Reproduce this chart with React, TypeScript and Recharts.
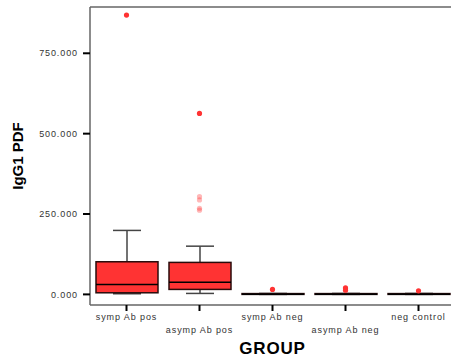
import React from 'react';
import { ComposedChart, Bar, Scatter, XAxis, YAxis } from 'recharts';

// groups and box statistics
const groups = ['symp Ab pos', 'asymp Ab pos', 'symp Ab neg', 'asymp Ab neg', 'neg  control'];
const whiskerLow = [2000, 3000, 0, 0, 0];
const q1 = [5000, 15500, 0, 0, 0];
const median = [31000, 38000, 800, 800, 800];
const q3 = [101500, 99500, 2500, 2500, 2500];
const whiskerHigh = [199000, 150000, 3000, 3000, 3000];

// outliers
const outlierGroups = ['symp Ab pos', 'asymp Ab pos', 'symp Ab neg', 'asymp Ab neg', 'asymp Ab neg', 'neg  control'];
const outlierValues = [869000, 563000, 15500, 20000, 13000, 11000];
const faintGroups = ['asymp Ab pos', 'asymp Ab pos', 'asymp Ab pos', 'asymp Ab pos'];
const faintValues = [304000, 294000, 268000, 262000];

const yTicks = [0, 250000, 500000, 750000];
const yTickLabels = ['0.000', '250.000', '500.000', '750.000'];

const rows = groups.map((g, i) => ({
  group: g,
  range: [whiskerLow[i], whiskerHigh[i]],
  low: whiskerLow[i],
  q1: q1[i],
  median: median[i],
  q3: q3[i],
  high: whiskerHigh[i],
}));

const outliers = outlierGroups.map((g, i) => ({ group: g, value: outlierValues[i] }));
const faint = faintGroups.map((g, i) => ({ group: g, value: faintValues[i] }));

const FONT = '"Liberation Sans", Arial, Helvetica, sans-serif';

const BoxShape = (props: any) => {
  const { x, y, width, height, payload } = props;
  if (x == null || y == null) return null;
  const top = Math.min(y, y + height);
  const bottom = Math.max(y, y + height);
  const { low, high } = payload;
  const toY = (v: number) => bottom - ((bottom - top) * (v - low)) / (high - low);
  const cx = x + width / 2;
  const cap = 28;
  const yq1 = toY(payload.q1);
  const yq3 = toY(payload.q3);
  const ymed = toY(payload.median);
  return (
    <g>
      <line x1={cx} x2={cx} y1={toY(high)} y2={yq3} stroke="#444" strokeWidth={1.5} />
      <line x1={cx} x2={cx} y1={yq1} y2={toY(low)} stroke="#444" strokeWidth={1.5} />
      <line x1={cx - cap / 2} x2={cx + cap / 2} y1={toY(high)} y2={toY(high)} stroke="#444" strokeWidth={1.5} />
      <line x1={cx - cap / 2} x2={cx + cap / 2} y1={toY(low)} y2={toY(low)} stroke="#444" strokeWidth={1.5} />
      <rect x={x} y={yq3} width={width} height={Math.max(yq1 - yq3, 0.5)} fill="#ff3333" stroke="#2a0c0c" strokeWidth={1.5} />
      <line x1={x} x2={x + width} y1={ymed} y2={ymed} stroke="#000" strokeWidth={1.5} />
    </g>
  );
};

const Dot = (props: any) => <circle cx={props.cx} cy={props.cy} r={2.6} fill="#ff3333" />;
const FaintDot = (props: any) => <circle cx={props.cx} cy={props.cy} r={2.6} fill="#ff3333" fillOpacity={0.35} />;

const XTick = (props: any) => {
  const { x, y, payload, index } = props;
  return (
    <text
      x={x}
      y={y + (index % 2 ? 19.5 : 7)}
      textAnchor="middle"
      fontSize={9}
      letterSpacing={0.9}
      fill="#333"
      fontFamily={FONT}
    >
      {payload.value}
    </text>
  );
};

const YLabel = (props: any) => {
  const { viewBox } = props;
  const cx = 23;
  const cy = viewBox.y + viewBox.height / 2;
  return (
    <text
      x={cx}
      y={cy}
      transform={`rotate(-90 ${cx} ${cy})`}
      textAnchor="middle"
      fontSize={15}
      fontWeight="bold"
      fill="#000"
      fontFamily={FONT}
    >
      IgG1 PDF
    </text>
  );
};

const XLabel = (props: any) => {
  const { viewBox } = props;
  return (
    <text
      x={viewBox.x + viewBox.width / 2}
      y={354}
      textAnchor="middle"
      fontSize={17}
      fontWeight="bold"
      letterSpacing={0.8}
      fill="#000"
      fontFamily={FONT}
    >
      GROUP
    </text>
  );
};

export default function App() {
  return (
    <div style={{ position: 'absolute', left: 0, top: 0, width: 451, height: 363, overflow: 'hidden', background: '#fff' }}>
      <ComposedChart width={460} height={363} data={rows} margin={{ top: 6, right: 5, bottom: 0, left: 0 }}>
        <XAxis
          dataKey="group"
          type="category"
          allowDuplicatedCategory={false}
          height={58}
          axisLine={{ stroke: '#666', strokeWidth: 1.5 }}
          tickLine={{ stroke: '#000', strokeWidth: 2 }}
          tickSize={6}
          tickMargin={2}
          tick={<XTick />}
          interval={0}
          label={<XLabel />}
        />
        <XAxis
          xAxisId="top"
          orientation="top"
          dataKey="group"
          height={1}
          tick={false}
          tickLine={false}
          axisLine={{ stroke: '#666', strokeWidth: 1.5 }}
        />
        <YAxis
          type="number"
          width={90}
          domain={[-33000, 894000]}
          ticks={yTicks}
          tickFormatter={(v: number) => yTickLabels[yTicks.indexOf(v)]}
          axisLine={{ stroke: '#666', strokeWidth: 1.5 }}
          tickLine={{ stroke: '#000', strokeWidth: 2 }}
          tickSize={7}
          tickMargin={5}
          tick={{ fontSize: 9, fill: '#333', fontFamily: FONT, letterSpacing: 0.9 }}
          label={<YLabel />}
        />
        <Bar dataKey="range" barSize={62} shape={<BoxShape />} isAnimationActive={false} />
        <Scatter data={faint} dataKey="value" shape={<FaintDot />} isAnimationActive={false} />
        <Scatter data={outliers} dataKey="value" shape={<Dot />} isAnimationActive={false} />
      </ComposedChart>
    </div>
  );
}
